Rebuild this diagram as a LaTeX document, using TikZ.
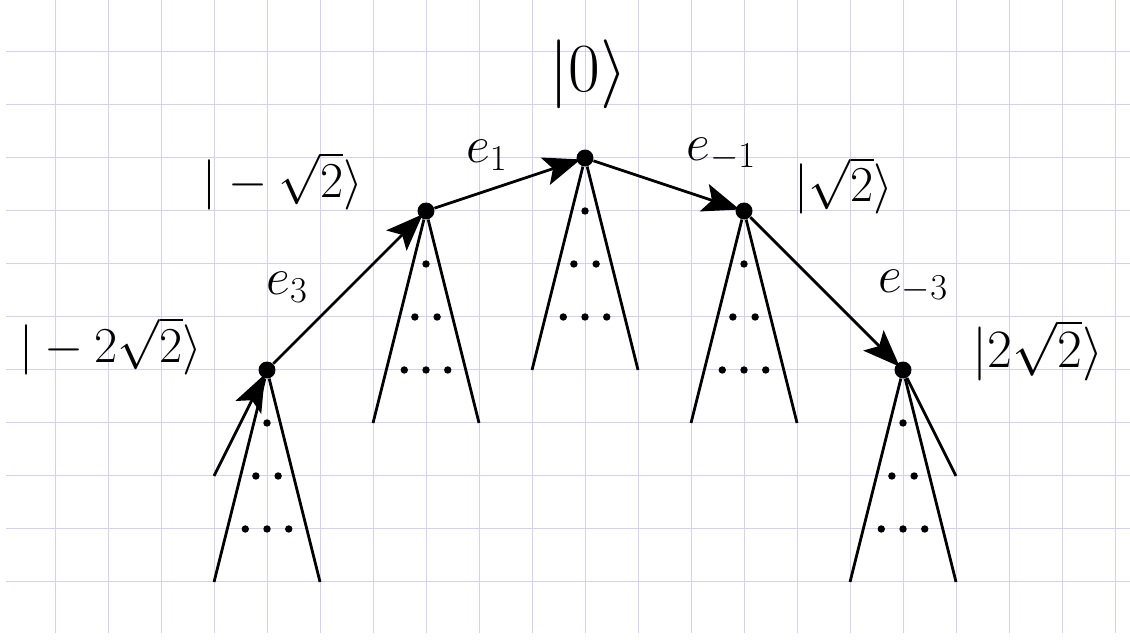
\documentclass[tikz,border=0pt]{standalone}
\usepackage{fix-cm}
\usetikzlibrary{arrows.meta}
\definecolor{gridlav}{RGB}{210,210,240}

\begin{document}
\begin{tikzpicture}[
  x=1cm,y=1cm,>=Stealth,
  gridline/.style={draw=gridlav,line width=0.55pt},
  state/.style={circle,fill=black,inner sep=0pt,minimum size=3.2mm},
  hop/.style={-{Stealth[length=7mm,width=5.4mm,inset=1.5mm]},line width=1.5pt,shorten >=-0.8mm},
  cone/.style={line width=1.5pt},
  ket/.style={anchor=base,inner sep=0pt,font=\fontsize{27}{32}\selectfont},
  op/.style={anchor=base,inner sep=0pt,font=\fontsize{28}{32}\selectfont}
]
\useasboundingbox (-0.038,-0.094) rectangle (21.283,11.981);
% ---------- grid paper
\draw[gridline] (0.075,0.04) grid (21.28,11.98);
% ---------- states
\node[state] (z0) at (11,9) {};
\node[state] (m1) at (8,8)  {};
\node[state] (p1) at (14,8) {};
\node[state] (m2) at (5,5)  {};
\node[state] (p2) at (17,5) {};
% ---------- cones below every state
\foreach \s/\x/\y in {z0/11/9, m1/8/8, p1/14/8, m2/5/5, p2/17/5}{
  \coordinate (\s L) at (\x-1,\y-4);
  \coordinate (\s R) at (\x+1,\y-4);
  \draw[cone] (\s) -- (\s L);
  \draw[cone] (\s) -- (\s R);
  \fill (\x,\y-1) circle (0.07);
  \foreach \d in {-0.21,0.21} \fill (\x+\d,\y-2) circle (0.07);
  \foreach \d in {-0.41,0,0.41} \fill (\x+\d,\y-3) circle (0.07);
}
% ---------- outer legs
\coordinate (inA)  at (4,3);
\coordinate (outB) at (18,3);
\draw[hop]  (inA) -- (m2);
\draw[cone] (p2) -- (outB);
% ---------- hops between states
\draw[hop] (m2) -- (m1);
\draw[hop] (m1) -- (z0);
\draw[hop] (z0) -- (p1);
\draw[hop] (p1) -- (p2);
% ---------- kets
\node[ket,font=\fontsize{37}{44}\selectfont] (k0) at (11.06,10.25) {$|0\rangle$};
\node[ket] (km1) at (5.30,8.26)  {$|-\sqrt{2}\rangle$};
\node[ket] (kp1) at (15.89,8.17) {$|\sqrt{2}\rangle$};
\node[ket] (km2) at (2.05,5.15)  {$|-2\sqrt{2}\rangle$};
\node[ket,font=\fontsize{29}{34}\selectfont] (kp2) at (19.55,5.04) {$|2\sqrt{2}\rangle$};
% ---------- hop labels
\node[op] (e1)  at (9.15,8.92)  {$e_1$};
\node[op] (em1) at (13.57,8.96) {$e_{-1}$};
\node[op] (e3)  at (5.38,6.42)  {$e_3$};
\node[op] (em3) at (17.19,6.47) {$e_{-3}$};
\end{tikzpicture}
\end{document}
